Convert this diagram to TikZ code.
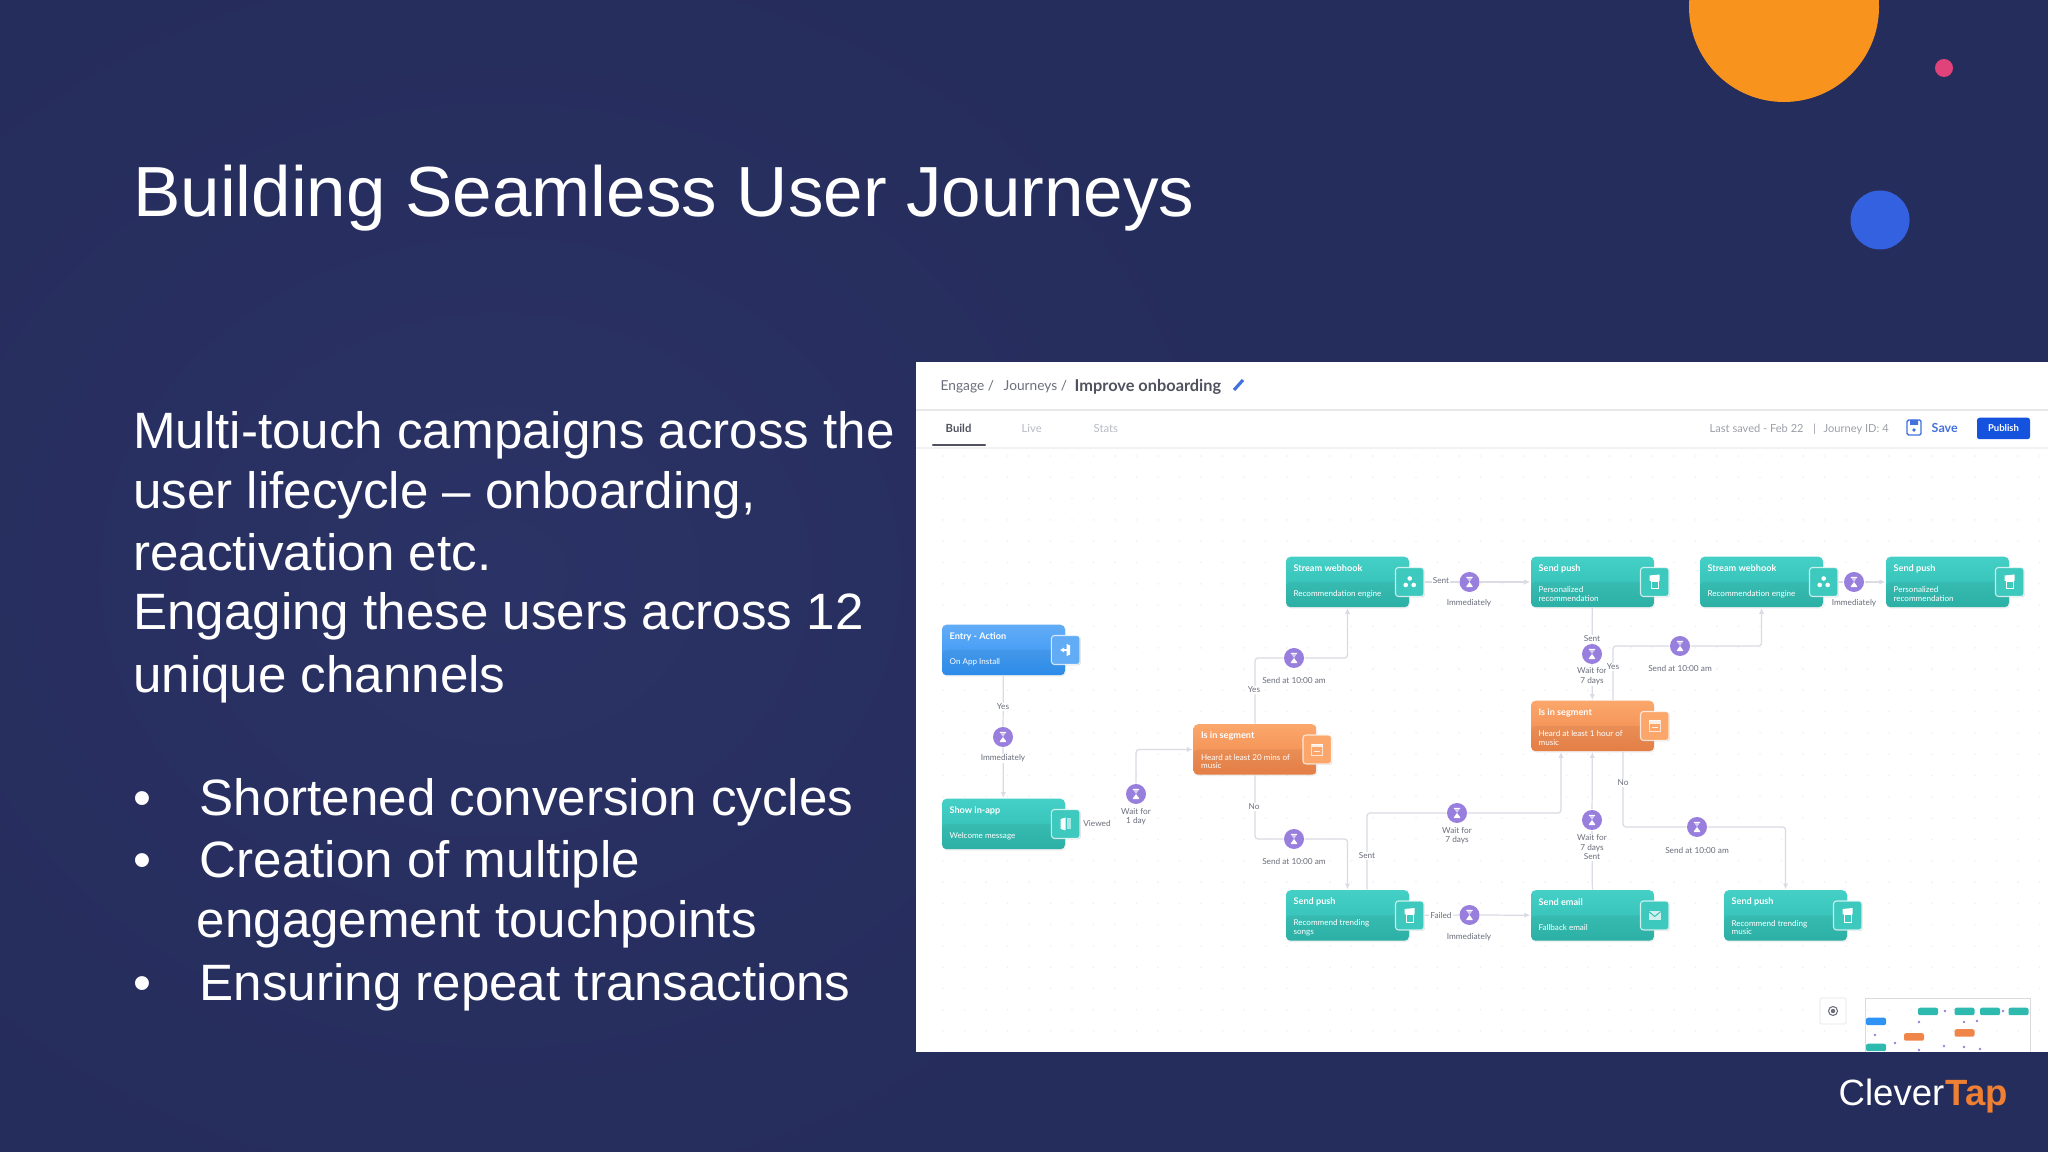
\documentclass[tikz,border=0pt]{standalone}
\usepackage{fontspec}
\setmainfont{Liberation Sans}
\newfontfamily\uifont{Lato}
\usetikzlibrary{calc}
\usetikzlibrary{shadows}
\usetikzlibrary{arrows.meta}
\definecolor{slidebg}{HTML}{2B3265}
\definecolor{slidebgdark}{HTML}{252D5C}
\definecolor{sunorange}{HTML}{F8931D}
\definecolor{dotpink}{HTML}{E0427A}
\definecolor{dotblue}{HTML}{3461E0}
\definecolor{tapcolor}{HTML}{EF7F33}
\definecolor{uigray}{HTML}{6B6E7C}
\definecolor{uifaint}{HTML}{B9BBC6}
\definecolor{uidark}{HTML}{50535F}
\definecolor{flowline}{HTML}{DADBE4}
\definecolor{griddot}{HTML}{F3F3F7}
\definecolor{timerfill}{HTML}{987EDD}
\definecolor{pubblue}{HTML}{1553DE}
\definecolor{saveblue}{HTML}{4470DE}
\definecolor{tealtop}{HTML}{44D0C6}
\definecolor{tealend}{HTML}{2FBAB0}
\definecolor{bluetop}{HTML}{62ACF6}
\definecolor{blueend}{HTML}{2F93F6}
\definecolor{orangetop}{HTML}{FBA76B}
\definecolor{orangeend}{HTML}{F0854A}
\tikzset{slidetext/.style={anchor=base west,inner sep=0,text=white,font=\fontsize{14.55}{16}\selectfont}}
\tikzset{cardbox/.style={rectangle,rounded corners=.45mm,minimum width=12.3mm,minimum height=5.05mm,inner sep=0,
  drop shadow={shadow xshift=.1mm,shadow yshift=-.15mm,opacity=.12},
  path picture={\fill[black,opacity=.05] (path picture bounding box.west) rectangle (path picture bounding box.south east);}}}
\tikzset{cardteal/.style={top color=tealtop,bottom color=tealend}}
\tikzset{cardblue/.style={top color=bluetop,bottom color=blueend}}
\tikzset{cardorange/.style={top color=orangetop,bottom color=orangeend}}
\tikzset{iconbox/.style={rectangle,rounded corners=.3mm,minimum width=2.85mm,minimum height=2.9mm,inner sep=0,
  draw=white,draw opacity=.75,line width=.3pt,drop shadow={shadow xshift=.1mm,shadow yshift=-.1mm,opacity=.25}}}
\tikzset{icontealc/.style={fill=tealtop!70!tealend}}
\tikzset{iconbluec/.style={fill=bluetop}}
\tikzset{iconorangec/.style={fill=orangetop}}
\tikzset{cardtitle/.style={anchor=west,inner sep=0,text=white,font=\uifont\bfseries\fontsize{2.6}{3}\selectfont}}
\tikzset{cardnote/.style={anchor=west,inner sep=0,text=white,align=left,font=\uifont\fontsize{2.3}{2.4}\selectfont}}
\tikzset{steplabel/.style={inner sep=.3pt,fill=white,text=uigray,align=center,font=\uifont\fontsize{2.35}{2.7}\selectfont}}
\tikzset{flow/.style={draw=flowline,line width=.35pt,rounded corners=.3mm,>={Latex[length=1.7pt,width=1.5pt]}}}
\tikzset{timer/.style={circle,fill=timerfill,minimum size=2mm,inner sep=0,
  path picture={\path (path picture bounding box.center) pic {sandglass};}}}
% little white glyphs, drawn in pixels of the slide
\tikzset{
  sandglass/.pic={
    \fill[white] (-3.2,-5.2) rectangle (3.2,-4.2) (-3.2,4.2) rectangle (3.2,5.2);
    \fill[white,opacity=.6] (-2.6,-3.8) -- (2.6,-3.8) -- (0,0) -- cycle;
    \fill[white] (-2.8,3.8) -- (2.8,3.8) -- (0,0) -- cycle;
  },
  hookglyph/.pic={\fill[white] (0,-3.5) circle[radius=2.3] (-4,3) circle[radius=2.3] (4,3) circle[radius=2.3];},
  pushglyph/.pic={
    \fill[white] (-5,-6.5) -- (5,-7.5) -- (5,-1) -- (-5,-1) -- cycle;
    \draw[white,line width=.2pt] (-3.5,-1) rectangle (3.5,6.5);
  },
  mailglyph/.pic={
    \fill[white,opacity=.75] (-6,-4) rectangle (6,4.5);
    \draw[tealend,line width=.25pt] (-6,-4) -- (0,1) -- (6,-4);
  },
  pageglyph/.pic={
    \fill[white] (-5,-5) -- (0,-6.5) -- (0,6.5) -- (-5,5) -- cycle;
    \fill[white,opacity=.55] (1,-5.5) rectangle (5,5.5);
  },
  segglyph/.pic={
    \draw[white,opacity=.7,line width=.2pt] (-5.5,-5.5) rectangle (5.5,5.5);
    \fill[white,opacity=.8] (-5.5,-5.5) rectangle (5.5,-2);
    \draw[white,opacity=.8,line width=.2pt] (-3,1.5) -- (3,1.5);
  },
  entryglyph/.pic={
    \fill[white] (1,-6) -- (4.5,-4.5) -- (4.5,4.5) -- (1,6) -- cycle;
    \fill[white] (-5.5,0) -- (-1.5,-2.5) -- (-1.5,2.5) -- cycle;
    \draw[white,line width=.3pt] (-2,0) -- (1,0);
  }
}
\newcommand{\journeycard}[6]{%
  \node[cardbox,card#3] (#1) at (#2) {};
  \node[cardtitle] (#1title) at ($(#1.north west)+(7.6,12.5)$) {#4};
  \node[cardnote] (#1note) at ($(#1.north west)+(7.6,38)$) {#5};
  \node[iconbox,icon#3c] (#1icon) at (#1.east) {};
  \pic at (#1icon) {#6};
}

\begin{document}
\begin{tikzpicture}[x=.1mm,y=-.1mm]
\useasboundingbox (0,0) rectangle (2048,1152);
\fill[slidebgdark] (0,0) rectangle (2048,1152);
\shade[inner color=slidebg,outer color=slidebgdark] (-300,-100) rectangle (1300,1250);
\fill[sunorange] (1784,7) circle[radius=95];
\fill[dotpink] (1944,68) circle[radius=9];
\fill[dotblue] (1880,220) circle[radius=29.5];
% slide text
\node[slidetext,font=\fontsize{20.2}{24}\selectfont] (slidetitle) at (132.5,217) {Building Seamless User Journeys};
\foreach \n/\ty/\txt in {a/449/{Multi-touch campaigns across the},b/509/{user lifecycle – onboarding,},
  c/571/{reactivation etc.},d/630/{Engaging these users across 12},e/693/{unique channels}}
  \node[slidetext] (body\n) at (132.5,\ty) {\txt};
\foreach \n/\ty/\txt in {a/816/{Shortened conversion cycles},b/878/{Creation of multiple},d/1001/{Ensuring repeat transactions}}{
  \node[slidetext] (dot\n) at (133,\ty) {•};
  \node[slidetext] (point\n) at (199,\ty) {\txt};
}
\node[slidetext] (pointc) at (196,938) {engagement touchpoints};
\node[anchor=base west,inner sep=0,text=white,font=\fontsize{10.4}{12}\selectfont] (cleverword) at (1838,1105) {Clever};
\node[anchor=base west,inner sep=0,text=tapcolor,font=\bfseries\fontsize{10.4}{12}\selectfont] (tapword) at (cleverword.base east) {Tap};
% screenshot panel
\fill[white] (916,362) rectangle (2048,1052);
\fill[griddot] \foreach \x in {0,...,51}{\foreach \y in {0,...,27}{(943+\x*21.5,456+\y*21.3) circle[radius=1.1]}};
\draw[draw=black!9,line width=.3pt] (916,410) -- (2048,410);
\draw[draw=black!5,line width=.5pt] (916,448) -- (2048,448);
\tikzset{crumb/.style={anchor=base west,inner sep=0,text=uigray,font=\uifont\fontsize{3.9}{4}\selectfont}}
\tikzset{tabtext/.style={anchor=base west,inner sep=0,font=\uifont\fontsize{3.2}{4}\selectfont}}
\node[crumb] (crumbengage) at (940,391) {Engage /};
\node[crumb] (crumbjourney) at (1003,391) {Journeys /};
\node[crumb,text=uidark,font=\uifont\bfseries\fontsize{4.65}{5}\selectfont] (crumbtitle) at (1074,391.5) {Improve onboarding};
\draw[saveblue,line width=.9pt] (1234,390) -- (1243,380);
\node[tabtext,text=uidark,font=\uifont\bfseries\fontsize{3.2}{4}\selectfont] (tabbuild) at (945,432.5) {Build};
\node[tabtext,text=uifaint] (tablive) at (1021,432.5) {Live};
\node[tabtext,text=uifaint] (tabstats) at (1093,432.5) {Stats};
\draw[uidark,line width=.6pt,line cap=round] (933,445) -- (985,445);
\tikzset{metatext/.style={anchor=base west,inner sep=0,text=uifaint!85!black,font=\uifont\fontsize{3.15}{3.5}\selectfont}}
\node[metatext] (lastsaved) at (1709,432.5) {Last saved - Feb 22};
\node[metatext] (metabar) at (1812,432.5) {|};
\node[metatext] (journeyid) at (1823,432.5) {Journey ID: 4};
\draw[saveblue,line width=.4pt,rounded corners=.15mm] (1907,420) rectangle (1921,435);
\fill[saveblue] (1910,420) rectangle (1918,425) (1914,430) circle[radius=1.8];
\node[anchor=base west,inner sep=0,text=saveblue,font=\uifont\bfseries\fontsize{3.55}{4}\selectfont] (savebtn) at (1931,433) {Save};
\node[fill=pubblue,text=white,rounded corners=.25mm,minimum width=5.3mm,minimum height=2.15mm,inner sep=0,font=\uifont\bfseries\fontsize{2.7}{3}\selectfont] (publishbtn) at (2003.5,428.5) {Publish};
% journey cards
\journeycard{hookone}{1347.5,582}{teal}{Stream webhook}{Recommendation engine}{hookglyph}
\journeycard{pushone}{1592.5,582}{teal}{Send push}{Personalized\\recommendation}{pushglyph}
\journeycard{hooktwo}{1761.5,582}{teal}{Stream webhook}{Recommendation engine}{hookglyph}
\journeycard{pushtwo}{1947.5,582}{teal}{Send push}{Personalized\\recommendation}{pushglyph}
\journeycard{entry}{1003.5,650}{blue}{Entry - Action}{On App Install}{entryglyph}
\journeycard{inapp}{1003.5,824}{teal}{Show in-app}{Welcome message}{pageglyph}
\journeycard{segone}{1255,749.5}{orange}{Is in segment}{Heard at least 20 mins of\\music}{segglyph}
\journeycard{segtwo}{1592.5,726}{orange}{Is in segment}{Heard at least 1 hour of\\music}{segglyph}
\journeycard{pushthree}{1347.5,915.5}{teal}{Send push}{Recommend trending\\songs}{pushglyph}
\journeycard{email}{1592.5,915.5}{teal}{Send email}{Fallback email}{mailglyph}
\journeycard{pushfour}{1785.5,915.5}{teal}{Send push}{Recommend trending\\music}{pushglyph}
% timers
\node[timer] (waitimm) at (1003,737) {};
\node[timer] (waitday) at (1136,794) {};
\node[timer] (waitup) at (1294,658) {};
\node[timer] (waitdown) at (1294,839) {};
\node[timer] (waithook) at (1469.5,582) {};
\node[timer] (waitfail) at (1469.5,915) {};
\node[timer] (waitweek) at (1457,813) {};
\node[timer] (waitsent) at (1592,654) {};
\node[timer] (waitmail) at (1592,820) {};
\node[timer] (waityes) at (1680,646) {};
\node[timer] (waitno) at (1697,827) {};
\node[timer] (waitlast) at (1854,582) {};
% connectors
\coordinate (segtwoyes) at ($(segtwo.north)+(20.5,0)$);
\coordinate (segtwono) at ($(segtwo.south)+(30.5,0)$);
\coordinate (segtwoback) at ($(segtwo.south)+(-31.5,0)$);
\coordinate (pushthreesent) at ($(pushthree.north)+(19.5,0)$);
\draw[flow] (entry) -- (waitimm);
\draw[flow,->] (waitimm) -- (inapp);
\draw[flow,->] (waitday) |- (segone);
\draw[flow] (segone) |- (waitup);
\draw[flow,->] (waitup) -| (hookone);
\draw[flow] (segone) |- (waitdown);
\draw[flow,->] (waitdown) -| (pushthree);
\draw[flow] (hookoneicon) -- (waithook);
\draw[flow,->] (waithook) -- (pushone);
\draw[flow] (pushone) -- (waitsent);
\draw[flow,->] (waitsent) -- (segtwo);
\draw[flow] (segtwoyes) |- (waityes);
\draw[flow,->] (waityes) -| (hooktwo);
\draw[flow] (hooktwoicon) -- (waitlast);
\draw[flow,->] (waitlast) -- (pushtwo);
\draw[flow] (pushthreesent) |- (waitweek);
\draw[flow,->] (waitweek) -| (segtwoback);
\draw[flow] (email) -- (waitmail);
\draw[flow,->] (waitmail) -- (segtwo);
\draw[flow] (segtwono) |- (waitno);
\draw[flow,->] (waitno) -| (pushfour);
\draw[flow] (pushthreeicon) -- (waitfail);
\draw[flow,->] (waitfail) -- (email);
% step labels
\node[steplabel] (yesentry) at (1003,707) {Yes};
\node[steplabel] (lblimm) at (1003,758.5) {Immediately};
\node[steplabel] (lblviewed) at (1097,823) {Viewed};
\node[steplabel] (lblday) at (1136,816.5) {Wait for\\1 day};
\node[steplabel] (yesseg) at (1254,690) {Yes};
\node[steplabel] (lblup) at (1294,680) {Send at 10:00 am};
\node[steplabel] (noseg) at (1254,807) {No};
\node[steplabel] (lbldown) at (1294,861) {Send at 10:00 am};
\node[steplabel] (sentpush) at (1367,856) {Sent};
\node[steplabel] (lblweek) at (1457,835.5) {Wait for\\7 days};
\node[steplabel] (senthook) at (1441,581) {Sent};
\node[steplabel] (lblhook) at (1469,603) {Immediately};
\node[steplabel] (failpush) at (1441,915) {Failed};
\node[steplabel] (lblfail) at (1469,937) {Immediately};
\node[steplabel] (sentone) at (1592,639) {Sent};
\node[steplabel] (lblsent) at (1592,676) {Wait for\\7 days};
\node[steplabel] (yestwo) at (1613,667) {Yes};
\node[steplabel] (lblyes) at (1680,668) {Send at 10:00 am};
\node[steplabel] (lblmail) at (1592,847.5) {Wait for\\7 days\\Sent};
\node[steplabel] (notwo) at (1623,783) {No};
\node[steplabel] (lblno) at (1697,850) {Send at 10:00 am};
\node[steplabel] (lbllast) at (1854,603) {Immediately};
% locate button and minimap
\node[rectangle,draw=black!6,fill=white,rounded corners=.2mm,minimum size=2.6mm,inner sep=0] (locatebtn) at (1833,1011) {};
\draw[uigray,line width=.3pt] (locatebtn) circle[radius=4.5];
\fill[uigray] (locatebtn) circle[radius=2.2];
\draw[draw=black!14,line width=.25pt] (1865,1052) |- (2030,998) -- (2030,1052);
\foreach \cx/\cy/\cc [count=\n] in {1928/1011.5/tealend,1964.5/1011.5/tealend,1990/1011.5/tealend,2018.5/1011.5/tealend,
  1876/1021.5/blueend,1914/1037/orangeend,1964.5/1033/orangeend,1876/1047.5/tealend}
  \node[fill=\cc,rounded corners=.2mm,minimum width=2mm,minimum height=.75mm,inner sep=0] (mini\n) at (\cx,\cy) {};
\foreach \cx/\cy [count=\n] in {1945/1011,2003/1011,1919/1022,1964/1022,1977/1021,1875/1035,1895/1043,1919/1050,1944/1046,1964/1047,1980/1049}
  \fill[timerfill] (\cx,\cy) circle[radius=1.4];
\end{tikzpicture}
\end{document}
